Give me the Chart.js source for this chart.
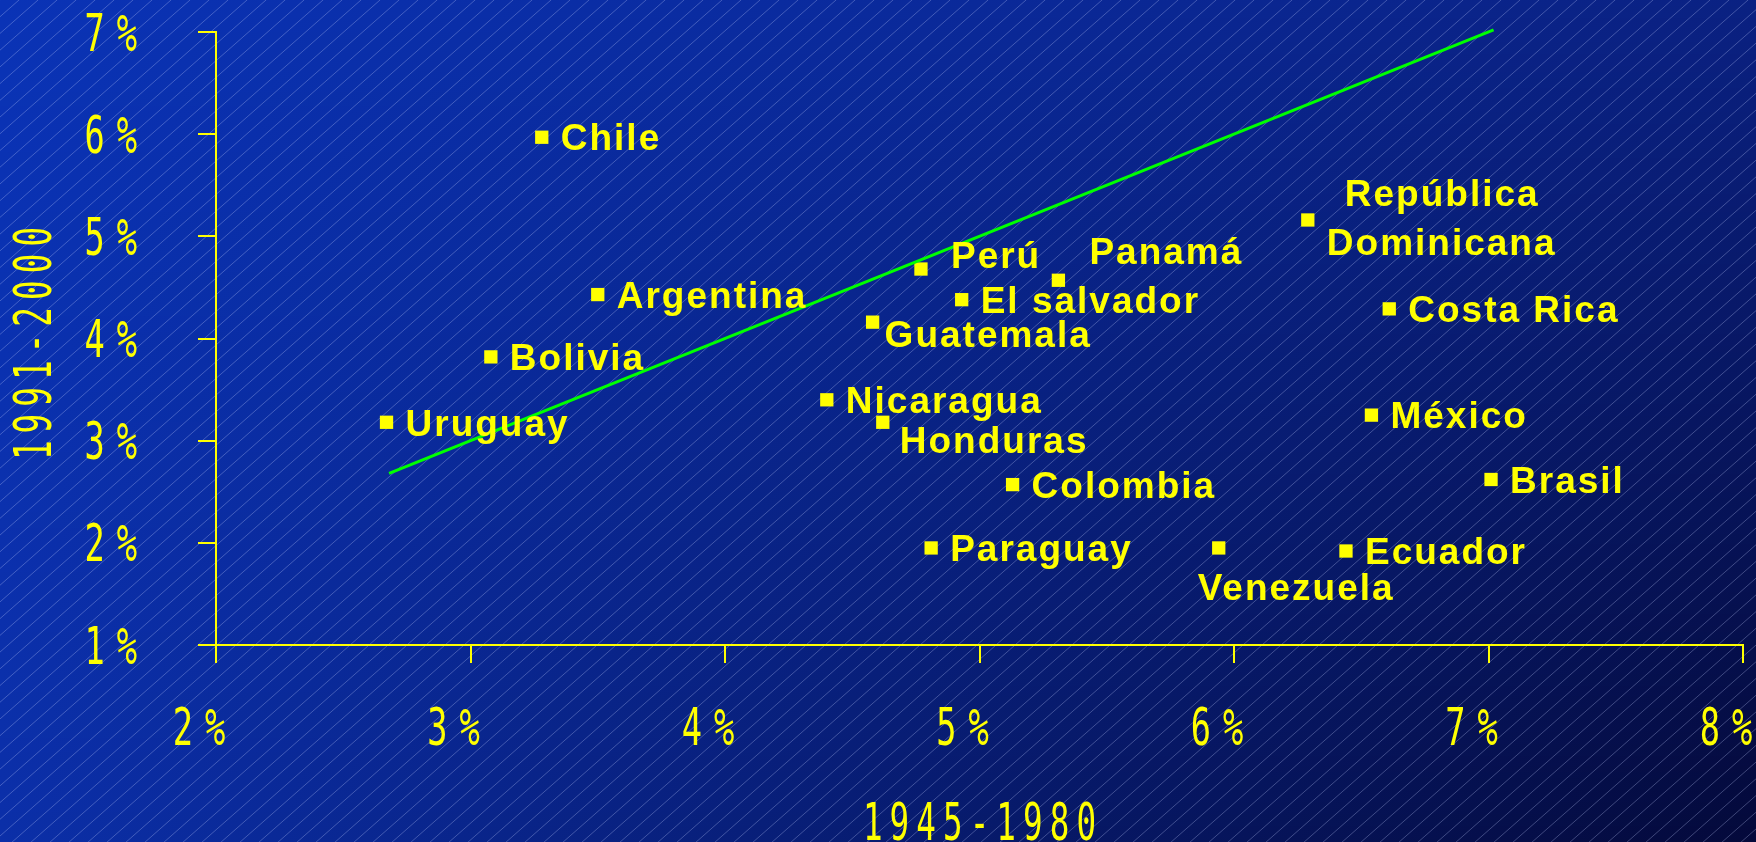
<!DOCTYPE html>
<html>
<head>
<meta charset="utf-8">
<script src="https://cdn.jsdelivr.net/npm/chart.js@4.4.1/dist/chart.umd.min.js"></script>
<style>
  html, body { margin: 0; padding: 0; background: #0a2590; overflow: hidden; }
  #wrap { width: 1756px; height: 842px; position: relative; }
</style>
</head>
<body>
<div id="wrap"><canvas id="c"></canvas></div>
<script>
// ---- data ----
const countries = ['Chile','Argentina','Bolivia','Uruguay','Perú','El salvador','Panamá','Guatemala','Nicaragua','Honduras','Colombia','Paraguay','Venezuela','Ecuador','Brasil','México','Costa Rica','República Dominicana'];
const growth1945_1980 = [3.28, 3.50, 3.08, 2.67, 4.77, 4.93, 5.31, 4.58, 4.40, 4.62, 5.13, 4.81, 5.94, 6.44, 7.01, 6.54, 6.61, 6.29];
const growth1991_2000 = [5.97, 4.43, 3.82, 3.18, 4.68, 4.38, 4.57, 4.16, 3.40, 3.18, 2.57, 1.95, 1.95, 1.92, 2.62, 3.25, 4.29, 5.16];
const trendX = [2.68, 7.02];
const trendY = [2.68, 7.02];
const xTicks = [2, 3, 4, 5, 6, 7, 8];
const yTicks = [1, 2, 3, 4, 5, 6, 7];
const xTitle = '1945-1980';
const yTitle = '1991-2000';

// ---- label placement (styling, px offsets from the marker) ----
const labelPlacement = {
  'Perú': [{dx: 30, dy: -14}],
  'Panamá': [{dx: 31, dy: -30}],
  'Guatemala': [{dx: 12, dy: 12}],
  'Honduras': [{dx: 17, dy: 17}],
  'Venezuela': [{dx: -21, dy: 39}],
  'República Dominicana': [{text: 'República', dx: 37, dy: -27}, {text: 'Dominicana', dx: 19, dy: 22}]
};
const defaultPlacement = {dx: 19, dy: 0};

const W = 1756, H = 842;
const YELLOW = '#ffff00';
const axisFont = '51px "DejaVu Sans Mono", "Liberation Mono", monospace';
const axisDigitHalf = 51 * 0.729 / 2;
const labelSize = 37;
const labelFont = 'bold ' + labelSize + 'px "Liberation Sans", Arial, sans-serif';

function hexToRgb(h){ return [parseInt(h.substr(1,2),16), parseInt(h.substr(3,2),16), parseInt(h.substr(5,2),16)]; }
function mix(a,b,t){ return a.map((v,i)=>Math.round(v+(b[i]-v)*t)); }
function rgb(c){ return 'rgb('+c[0]+','+c[1]+','+c[2]+')'; }

const bgPlugin = {
  id: 'bg',
  beforeDraw(chart) {
    const ctx = chart.ctx;
    const cw = chart.width, ch = chart.height;
    const TL = hexToRgb('#0a33b6'), TR = hexToRgb('#0a2182'), BL = hexToRgb('#0b2fa8'), BR = hexToRgb('#04093a');
    ctx.save();
    const step = 2;
    for (let y = 0; y < ch; y += step) {
      const t = y / ch;
      const g = ctx.createLinearGradient(0, 0, cw, 0);
      g.addColorStop(0, rgb(mix(TL, BL, t)));
      g.addColorStop(1, rgb(mix(TR, BR, t)));
      ctx.fillStyle = g;
      ctx.fillRect(0, y, cw, step);
    }
    ctx.strokeStyle = 'rgba(200,210,255,0.30)';
    ctx.lineWidth = 1;
    const slope = 0.88, spacing = 19;
    ctx.beginPath();
    for (let c = 0; c < ch + slope * cw + spacing; c += spacing * slope) {
      ctx.moveTo(0, c);
      ctx.lineTo(cw, c - slope * cw);
    }
    ctx.stroke();
    ctx.restore();
  }
};

// condensed, letter-spaced axis text (tick labels and titles taken from the chart's scales)
function drawCondensed(ctx, text, x, y, align, factor, spacing, rotate) {
  ctx.save();
  ctx.font = axisFont;
  try { ctx.letterSpacing = spacing + 'px'; } catch(e) {}
  ctx.fillStyle = YELLOW;
  ctx.textAlign = 'left';
  ctx.textBaseline = 'alphabetic';
  const w = (ctx.measureText(text).width - spacing) * factor;
  ctx.translate(x, y);
  if (rotate) ctx.rotate(-Math.PI / 2);
  let left = 0;
  if (align === 'right') left = -w;
  else if (align === 'center') left = -w / 2;
  ctx.translate(left, axisDigitHalf);
  ctx.scale(factor, 1);
  ctx.fillText(text, 0, 0);
  ctx.restore();
}

const axisTextPlugin = {
  id: 'axisText',
  afterDraw(chart) {
    const ctx = chart.ctx;
    const xs = chart.scales.x, ys = chart.scales.y;
    xs.ticks.forEach(t => {
      drawCondensed(ctx, String(t.label), xs.getPixelForValue(t.value) - 17, 726, 'center', 0.66, 18, false);
    });
    ys.ticks.forEach(t => {
      drawCondensed(ctx, String(t.label), 137, ys.getPixelForValue(t.value), 'right', 0.66, 18, false);
    });
    const xc = (chart.chartArea.left + chart.chartArea.right) / 2;
    const yc = (chart.chartArea.top + chart.chartArea.bottom) / 2;
    drawCondensed(ctx, xs.options.title.text, xc, 821, 'center', 0.64, 11, false);
    drawCondensed(ctx, ys.options.title.text, 32, yc + 5, 'center', 0.64, 11, true);
  }
};

const labelPlugin = {
  id: 'pointLabels',
  afterDatasetsDraw(chart) {
    const ctx = chart.ctx;
    const meta = chart.getDatasetMeta(1);
    ctx.save();
    ctx.font = labelFont;
    ctx.fillStyle = YELLOW;
    ctx.textAlign = 'left';
    ctx.textBaseline = 'alphabetic';
    try { ctx.letterSpacing = '2px'; } catch(e) {}
    const capHalf = labelSize * 0.716 / 2;
    meta.data.forEach((pt, i) => {
      const name = countries[i];
      const places = labelPlacement[name] || [defaultPlacement];
      places.forEach(p => {
        const txt = p.text || name;
        ctx.fillText(txt, pt.x + p.dx, pt.y + p.dy + capHalf);
      });
    });
    ctx.restore();
  }
};

const points = countries.map((c, i) => ({x: growth1945_1980[i], y: growth1991_2000[i]}));
const trend = trendX.map((x, i) => ({x: x, y: trendY[i]}));

new Chart(document.getElementById('c'), {
  type: 'scatter',
  data: {
    datasets: [
      {
        label: 'tendencia',
        data: trend,
        showLine: true,
        borderColor: '#00ff00',
        borderWidth: 3,
        pointRadius: 0,
        pointHoverRadius: 0,
        fill: false,
        clip: false
      },
      {
        label: 'países',
        data: points,
        pointStyle: 'rect',
        pointRadius: 9.4,
        pointHoverRadius: 9.4,
        backgroundColor: YELLOW,
        borderWidth: 0,
        clip: false
      }
    ]
  },
  options: {
    responsive: true,
    maintainAspectRatio: false,
    animation: false,
    devicePixelRatio: 1,
    events: [],
    layout: { padding: { top: 32, right: 13, left: 0, bottom: 0 } },
    plugins: { legend: { display: false }, tooltip: { enabled: false } },
    scales: {
      x: {
        type: 'linear',
        min: 2, max: 8,
        afterBuildTicks(scale) { scale.ticks = xTicks.map(v => ({value: v})); },
        afterFit(scale) { scale.height = H - 645; scale.paddingLeft = 0; scale.paddingRight = 0; },
        border: { display: true, color: YELLOW, width: 2 },
        grid: { display: true, drawOnChartArea: false, drawTicks: true, tickLength: 18, color: YELLOW, lineWidth: 2 },
        ticks: { display: false, autoSkip: false, callback: v => v + '%' },
        title: { display: false, text: xTitle }
      },
      y: {
        type: 'linear',
        min: 1, max: 7,
        afterBuildTicks(scale) { scale.ticks = yTicks.map(v => ({value: v})); },
        afterFit(scale) { scale.width = 216; scale.paddingTop = 0; scale.paddingBottom = 0; },
        border: { display: true, color: YELLOW, width: 2 },
        grid: { display: true, drawOnChartArea: false, drawTicks: true, tickLength: 18, color: YELLOW, lineWidth: 2 },
        ticks: { display: false, autoSkip: false, callback: v => v + '%' },
        title: { display: false, text: yTitle }
      }
    }
  },
  plugins: [bgPlugin, labelPlugin, axisTextPlugin]
});
</script>
</body>
</html>
